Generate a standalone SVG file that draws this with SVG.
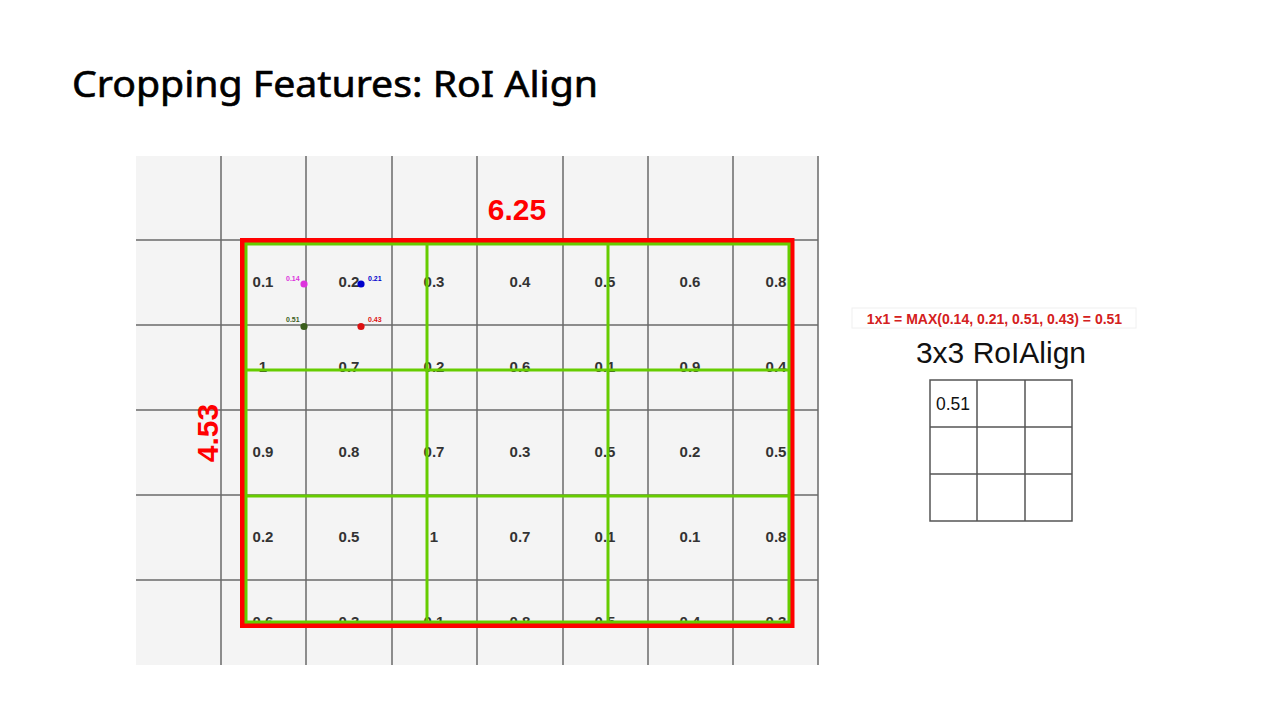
<svg xmlns="http://www.w3.org/2000/svg" width="1280" height="720" viewBox="0 0 1280 720">
<style>
.grid{stroke:#6a6a6a;stroke-width:1.5;fill:none}
.val{font-family:"Liberation Sans",Arial,sans-serif;font-weight:bold;font-size:15px;fill:#333;text-anchor:middle}
.small{font-family:"Liberation Sans",Arial,sans-serif;font-weight:bold;font-size:7px}
.green{stroke:#66cc00;stroke-width:3;fill:none}
.dim{font-family:"Liberation Sans",Arial,sans-serif;font-weight:bold;font-size:30px;fill:#ff0000;text-anchor:middle}
.out{stroke:#555;stroke-width:1.5;fill:none}
</style>
<defs>
<clipPath id="gclip"><rect x="136" y="156" width="682" height="468"/></clipPath>
</defs>
<rect width="1280" height="720" fill="#fff"/>
<text x="72" y="97" font-family="'Noto Sans','Open Sans',sans-serif" font-size="36" fill="#000" stroke="#000" stroke-width="0.6" textLength="526" lengthAdjust="spacingAndGlyphs">Cropping Features: RoI Align</text>
<g id="featuremap">
<rect x="136" y="156" width="682" height="509" fill="#f4f4f4"/>
<path class="grid" d="M221 156V665M306 156V665M392 156V665M477 156V665M563 156V665M648 156V665M733 156V665M818 156V665M136 240H818M136 325H818M136 410H818M136 495H818M136 580H818"/>
<g clip-path="url(#gclip)">
<text class="val" x="263" y="287">0.1</text><text class="val" x="349" y="287">0.2</text><text class="val" x="434" y="287">0.3</text><text class="val" x="520" y="287">0.4</text><text class="val" x="605" y="287">0.5</text><text class="val" x="690" y="287">0.6</text><text class="val" x="776" y="287">0.8</text>
<text class="val" x="263" y="372">1</text><text class="val" x="349" y="372">0.7</text><text class="val" x="434" y="372">0.2</text><text class="val" x="520" y="372">0.6</text><text class="val" x="605" y="372">0.1</text><text class="val" x="690" y="372">0.9</text><text class="val" x="776" y="372">0.4</text>
<text class="val" x="263" y="457">0.9</text><text class="val" x="349" y="457">0.8</text><text class="val" x="434" y="457">0.7</text><text class="val" x="520" y="457">0.3</text><text class="val" x="605" y="457">0.5</text><text class="val" x="690" y="457">0.2</text><text class="val" x="776" y="457">0.5</text>
<text class="val" x="263" y="542">0.2</text><text class="val" x="349" y="542">0.5</text><text class="val" x="434" y="542">1</text><text class="val" x="520" y="542">0.7</text><text class="val" x="605" y="542">0.1</text><text class="val" x="690" y="542">0.1</text><text class="val" x="776" y="542">0.8</text>
<text class="val" x="263" y="627">0.6</text><text class="val" x="349" y="627">0.3</text><text class="val" x="434" y="627">0.1</text><text class="val" x="520" y="627">0.8</text><text class="val" x="605" y="627">0.5</text><text class="val" x="690" y="627">0.4</text><text class="val" x="776" y="627">0.3</text>
</g>
</g>
<g id="roi">
<rect x="242.5" y="240.5" width="549.5" height="385" fill="none" stroke="#ff0000" stroke-width="5"/>
<rect x="246" y="244" width="543" height="378" class="green"/>
<path class="green" d="M427 244V622M608 244V622M246 370H789M246 496H789"/>
</g>
<g id="samples">
<circle cx="304" cy="284" r="3.6" fill="#dd33dd"/>
<circle cx="361" cy="284" r="3.6" fill="#0000cc"/>
<circle cx="304" cy="326.5" r="3.6" fill="#3b5e1c"/>
<circle cx="361" cy="326.5" r="3.6" fill="#dd1111"/>
<text class="small" x="286" y="281" fill="#dd33dd">0.14</text>
<text class="small" x="368" y="281" fill="#0000cc">0.21</text>
<text class="small" x="286" y="322" fill="#3b5e1c">0.51</text>
<text class="small" x="368" y="322" fill="#dd1111">0.43</text>
</g>
<text class="dim" x="517" y="220">6.25</text>
<text class="dim" transform="translate(218 433) rotate(-90)">4.53</text>
<g id="result">
<rect x="852" y="308" width="284" height="20" fill="#fff" stroke="#f0f0f0" stroke-width="1"/>
<text x="994.5" y="324" font-family="'Liberation Sans',Arial,sans-serif" font-weight="bold" font-size="14" fill="#d42020" text-anchor="middle">1x1 = MAX(0.14, 0.21, 0.51, 0.43) = 0.51</text>
<text x="1001" y="363" font-family="'Liberation Sans',Arial,sans-serif" font-size="30" fill="#111" text-anchor="middle">3x3 RoIAlign</text>
<rect x="930" y="380" width="142" height="141" class="out"/>
<path class="out" d="M977 380V521M1025 380V521M930 427H1072M930 474H1072"/>
<text x="936" y="410" font-family="'Liberation Sans',Arial,sans-serif" font-size="17.5" fill="#111">0.51</text>
</g>
</svg>
